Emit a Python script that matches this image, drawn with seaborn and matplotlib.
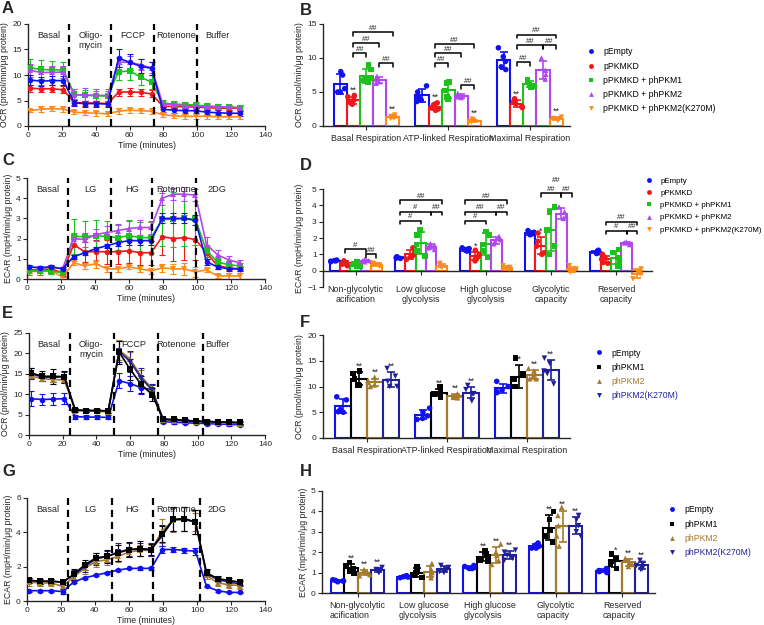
import numpy as np
import pandas as pd
import matplotlib
matplotlib.use('Agg')
import matplotlib.pyplot as plt
import seaborn as sns
from matplotlib.lines import Line2D

sns.set_style('ticks')
plt.rcParams['font.family'] = ['Liberation Sans', 'DejaVu Sans']
plt.rcParams['axes.linewidth'] = 1.0
np.random.seed(3)

W, H = 764, 625

# ---------------- data ----------------
time = [1.3, 7.8, 14.4, 20.9, 27.4, 33.9, 40.4, 47.0, 53.5, 60.0,
        66.5, 73.0, 79.6, 86.1, 92.6, 99.1, 105.6, 112.1, 118.6, 125.2]

kd_groups = ['pEmpty', 'pPKMKD', 'pPKMKD + phPKM1', 'pPKMKD + phPKM2', 'pPKMKD + phPKM2(K270M)']
kd_colors = ['#1010f0', '#f01818', '#1ec01e', '#b048ee', '#ff8a1c']
kd_markers = ['o', 'o', 's', '^', 'v']

oe_groups = ['pEmpty', 'phPKM1', 'phPKM2', 'phPKM2(K270M)']
oe_colors = ['#1010f0', '#000000', '#a67a2e', '#20209a']
oe_markers = ['o', 's', '^', 'v']

# A: OCR knockdown
ocr_kd_mean = {
    'pEmpty': [9.0, 8.8, 8.9, 8.9, 4.5, 4.4, 4.4, 4.3, 13.3, 12.5, 11.7, 11.3, 3.3, 3.1, 3.0, 3.0, 2.7, 2.6, 2.5, 2.5],
    'pPKMKD': [7.4, 7.3, 7.3, 7.1, 4.6, 4.5, 4.5, 4.4, 6.6, 6.7, 6.6, 6.3, 3.9, 3.8, 3.8, 3.7, 3.6, 3.5, 3.5, 3.5],
    'pPKMKD + phPKM1': [11.4, 11.1, 11.0, 11.0, 6.2, 6.0, 5.9, 5.9, 10.6, 10.8, 9.6, 8.6, 4.5, 4.3, 4.2, 4.1, 3.9, 3.8, 3.7, 3.6],
    'pPKMKD + phPKM2': [10.9, 10.5, 10.5, 10.6, 6.1, 6.1, 6.0, 6.0, 12.5, 12.5, 12.0, 11.4, 4.3, 4.2, 4.0, 3.9, 3.8, 3.8, 3.7, 3.6],
    'pPKMKD + phPKM2(K270M)': [3.0, 3.3, 3.4, 3.3, 2.7, 2.6, 2.5, 2.4, 2.9, 3.1, 3.0, 2.9, 2.2, 2.0, 1.9, 1.9, 1.9, 1.8, 1.8, 1.8],
}
ocr_kd_sd = {
    'pEmpty': [1.0, 0.9, 0.9, 0.9, 0.6, 0.6, 0.6, 0.5, 1.8, 1.6, 1.4, 1.3, 0.5, 0.5, 0.5, 0.5, 0.5, 0.5, 0.5, 0.5],
    'pPKMKD': [0.7, 0.7, 0.7, 0.7, 0.5, 0.5, 0.5, 0.5, 0.7, 0.8, 0.7, 0.7, 0.5, 0.5, 0.5, 0.5, 0.4, 0.4, 0.4, 0.4],
    'pPKMKD + phPKM1': [1.8, 1.9, 1.8, 1.5, 1.0, 1.0, 1.0, 1.0, 1.5, 1.8, 1.5, 1.4, 0.6, 0.6, 0.6, 0.6, 0.6, 0.5, 0.5, 0.5],
    'pPKMKD + phPKM2': [1.2, 1.2, 1.2, 1.2, 1.2, 1.3, 1.3, 1.3, 1.0, 1.2, 1.1, 1.1, 0.6, 0.6, 0.6, 0.6, 0.6, 0.6, 0.5, 0.5],
    'pPKMKD + phPKM2(K270M)': [0.3, 0.6, 0.5, 0.5, 0.4, 0.5, 0.5, 0.5, 0.6, 0.5, 0.5, 0.6, 0.4, 0.5, 0.5, 0.5, 0.5, 0.5, 0.5, 0.5],
}

# C: ECAR knockdown
ecar_kd_mean = {
    'pEmpty': [0.6, 0.55, 0.6, 0.5, 1.1, 1.3, 1.5, 1.65, 1.8, 1.9, 1.9, 1.9, 3.0, 3.0, 3.0, 2.9, 0.85, 0.6, 0.5, 0.5],
    'pPKMKD': [0.45, 0.45, 0.5, 0.3, 1.7, 1.35, 1.35, 1.35, 1.35, 1.4, 1.3, 1.3, 2.1, 2.0, 2.05, 1.95, 1.3, 0.65, 0.55, 0.5],
    'pPKMKD + phPKM1': [0.4, 0.4, 0.4, 0.3, 2.1, 2.1, 2.15, 2.1, 2.05, 2.15, 2.05, 2.05, 2.95, 2.95, 3.0, 2.95, 1.4, 0.85, 0.7, 0.65],
    'pPKMKD + phPKM2': [0.6, 0.55, 0.6, 0.5, 2.0, 1.95, 2.2, 2.3, 2.4, 2.5, 2.55, 2.55, 4.0, 4.2, 4.2, 4.15, 1.7, 1.2, 0.95, 0.8],
    'pPKMKD + phPKM2(K270M)': [0.35, 0.4, 0.4, 0.1, 0.8, 0.65, 0.75, 0.5, 0.5, 0.6, 0.5, 0.4, 0.55, 0.5, 0.5, 0.35, 0.45, 0.15, 0.15, 0.15],
}
ecar_kd_sd = {
    'pEmpty': [0.1, 0.1, 0.1, 0.1, 0.1, 0.1, 0.1, 0.1, 0.15, 0.2, 0.2, 0.2, 0.25, 0.25, 0.25, 0.25, 0.15, 0.1, 0.1, 0.1],
    'pPKMKD': [0.15, 0.15, 0.15, 0.15, 0.5, 0.5, 0.6, 0.6, 0.6, 0.6, 0.6, 0.6, 0.9, 1.1, 1.1, 1.0, 0.3, 0.15, 0.1, 0.1],
    'pPKMKD + phPKM1': [0.2, 0.2, 0.15, 0.2, 0.85, 0.75, 0.75, 0.75, 0.6, 0.75, 0.75, 0.75, 1.3, 1.35, 1.35, 1.25, 0.3, 0.2, 0.2, 0.15],
    'pPKMKD + phPKM2': [0.1, 0.1, 0.1, 0.1, 0.3, 0.35, 0.3, 0.3, 0.3, 0.35, 0.35, 0.3, 0.35, 0.3, 0.35, 0.3, 0.4, 0.25, 0.2, 0.15],
    'pPKMKD + phPKM2(K270M)': [0.15, 0.2, 0.15, 0.15, 0.1, 0.15, 0.2, 0.15, 0.15, 0.1, 0.15, 0.15, 0.2, 0.25, 0.3, 0.25, 0.1, 0.1, 0.15, 0.15],
}

# E: OCR overexpression
ocr_oe_mean = {
    'pEmpty': [8.9, 8.7, 8.8, 8.9, 4.5, 4.4, 4.4, 4.3, 13.3, 12.6, 11.6, 11.1, 3.3, 3.1, 3.0, 2.9, 2.8, 2.7, 2.6, 2.5],
    'phPKM1': [15.2, 14.4, 14.4, 14.3, 6.1, 6.0, 6.0, 5.9, 20.3, 16.1, 12.4, 9.9, 3.9, 3.8, 3.6, 3.4, 3.3, 3.2, 3.1, 3.1],
    'phPKM2': [14.4, 13.8, 13.6, 13.5, 6.0, 5.9, 5.8, 5.7, 20.8, 18.6, 14.4, 11.4, 3.6, 3.5, 3.4, 3.3, 3.1, 3.0, 2.9, 2.8],
    'phPKM2(K270M)': [15.0, 14.2, 14.1, 14.3, 6.2, 6.0, 6.0, 5.9, 20.5, 18.0, 14.0, 11.0, 3.8, 3.7, 3.5, 3.4, 3.3, 3.2, 3.1, 3.0],
}
ocr_oe_sd = {
    'pEmpty': [1.8, 1.4, 1.5, 1.4, 0.5, 0.5, 0.5, 0.5, 1.8, 1.8, 1.5, 1.2, 0.3, 0.3, 0.3, 0.3, 0.3, 0.3, 0.3, 0.3],
    'phPKM1': [1.3, 1.2, 1.8, 1.5, 0.4, 0.4, 0.4, 0.4, 2.8, 2.5, 2.0, 1.5, 0.3, 0.3, 0.3, 0.3, 0.3, 0.3, 0.3, 0.3],
    'phPKM2': [0.7, 0.6, 0.6, 0.6, 0.3, 0.3, 0.3, 0.3, 2.5, 1.8, 1.5, 1.0, 0.3, 0.3, 0.3, 0.3, 0.3, 0.3, 0.3, 0.3],
    'phPKM2(K270M)': [1.3, 1.0, 1.2, 1.2, 0.4, 0.4, 0.4, 0.4, 2.5, 2.5, 2.5, 1.5, 0.3, 0.3, 0.3, 0.3, 0.3, 0.3, 0.3, 0.3],
}

# G: ECAR overexpression
ecar_oe_mean = {
    'pEmpty': [0.6, 0.6, 0.6, 0.55, 1.1, 1.35, 1.5, 1.65, 1.8, 1.9, 1.9, 1.9, 3.0, 3.0, 2.95, 2.9, 0.85, 0.6, 0.5, 0.5],
    'phPKM1': [1.2, 1.15, 1.15, 1.1, 1.55, 2.1, 2.5, 2.6, 2.8, 3.0, 3.05, 3.0, 3.9, 4.75, 4.8, 4.6, 1.65, 1.3, 1.2, 1.1],
    'phPKM2': [1.1, 1.05, 1.05, 0.85, 1.4, 1.9, 2.3, 2.4, 2.6, 2.85, 2.95, 2.95, 4.1, 4.7, 4.75, 4.6, 1.5, 1.05, 0.95, 0.9],
    'phPKM2(K270M)': [1.2, 1.15, 1.15, 1.1, 1.5, 2.0, 2.45, 2.6, 2.85, 3.0, 3.0, 3.0, 3.8, 4.75, 4.75, 4.6, 1.6, 1.25, 1.1, 1.0],
}
ecar_oe_sd = {
    'pEmpty': [0.05, 0.05, 0.05, 0.15, 0.05, 0.05, 0.05, 0.05, 0.05, 0.05, 0.1, 0.1, 0.2, 0.15, 0.15, 0.2, 0.05, 0.05, 0.05, 0.05],
    'phPKM1': [0.15, 0.15, 0.15, 0.15, 0.3, 0.3, 0.3, 0.4, 0.45, 0.45, 0.45, 0.3, 0.45, 0.7, 0.7, 0.7, 0.2, 0.15, 0.15, 0.15],
    'phPKM2': [0.2, 0.15, 0.15, 0.2, 0.2, 0.3, 0.3, 0.3, 0.3, 0.3, 0.3, 0.3, 0.7, 0.7, 0.7, 0.5, 0.2, 0.2, 0.2, 0.2],
    'phPKM2(K270M)': [0.15, 0.15, 0.15, 0.15, 0.3, 0.3, 0.35, 0.3, 0.5, 0.4, 0.4, 0.35, 0.6, 0.7, 0.7, 0.7, 0.2, 0.15, 0.15, 0.15],
}

ocr_cats = ['Basal Respiration', 'ATP-linked Respiration', 'Maximal Respiration']
ecar_cats = ['Non-glycolytic\nacification', 'Low glucose\nglycolysis', 'High glucose\nglycolysis',
             'Glycolytic\ncapacity', 'Reserved\ncapacity']

# B: individual replicates, per category then group
ocr_kd_pts = [
    [[8.0, 7.5, 5.0, 5.0, 5.5], [4.5, 4.3, 3.8, 3.4, 3.2, 3.6], [9.0, 8.3, 7.0, 6.8, 6.7, 6.5], [7.3, 6.9, 6.5, 6.3], [1.6, 1.4, 1.3, 1.1, 1.2]],
    [[5.9, 5.0, 4.2, 3.6, 3.8], [3.4, 3.2, 2.7, 2.3, 2.5], [6.5, 6.3, 5.2, 4.3, 4.0], [4.8, 4.4, 4.3, 4.2], [1.0, 0.8, 0.7, 0.6]],
    [[11.5, 10.2, 9.5, 8.7, 8.3], [4.0, 3.6, 3.3, 2.9, 2.7], [6.8, 6.6, 6.0, 5.8, 5.7], [10.0, 8.2, 7.6, 6.9], [1.3, 1.1, 1.0, 0.8]],
]
# D
ecar_kd_pts = [
    [[0.65, 0.62, 0.6, 0.58, 0.55], [0.6, 0.5, 0.45, 0.4, 0.3], [0.55, 0.45, 0.4, 0.3, 0.25], [0.68, 0.62, 0.6, 0.55], [0.45, 0.4, 0.35, 0.25]],
    [[0.85, 0.82, 0.8, 0.78, 0.75], [1.4, 1.1, 0.95, 0.85, 0.7], [2.5, 2.2, 1.6, 1.2, 0.9], [1.65, 1.55, 1.4, 1.3], [0.45, 0.35, 0.25, 0.2]],
    [[1.4, 1.35, 1.3, 1.25, 1.2], [1.25, 1.0, 0.85, 0.7, 0.6], [2.4, 2.2, 1.6, 1.2, 0.8], [2.1, 1.9, 1.75, 1.65], [0.3, 0.2, 0.15, 0.1]],
    [[2.45, 2.35, 2.3, 2.25, 2.2], [2.3, 1.8, 1.5, 1.1, 1.0], [3.9, 3.6, 2.5, 1.5, 1.0], [3.9, 3.6, 3.3, 3.2], [0.3, 0.1, 0.0, -0.1]],
    [[1.25, 1.2, 1.15, 1.1, 1.05], [1.0, 0.8, 0.7, 0.5, 0.45], [1.3, 1.1, 0.8, 0.5, 0.3], [1.75, 1.7, 1.65, 1.6], [0.1, -0.1, -0.2, -0.5]],
]
# F
ocr_oe_pts = [
    [[8.0, 7.4, 5.5, 5.0, 5.1], [13.0, 12.5, 11.5, 10.3, 10.2], [11.8, 11.2, 10.8, 10.3, 10.0], [13.5, 12.0, 11.0, 10.0, 10.0]],
    [[5.8, 5.0, 4.3, 3.6, 3.8], [9.9, 9.0, 8.6, 8.0, 8.5], [8.6, 8.3, 8.0, 7.8, 7.9], [10.2, 9.4, 8.6, 7.2, 8.6]],
    [[11.0, 10.0, 9.3, 8.8, 9.0], [15.5, 12.5, 11.5, 10.0, 10.0], [13.5, 13.0, 12.0, 11.5, 11.5], [15.5, 14.5, 13.0, 12.5, 10.5]],
]
# H
ecar_oe_pts = [
    [[0.65, 0.62, 0.6, 0.58, 0.55], [1.5, 1.35, 1.2, 1.05, 0.95], [1.15, 1.05, 1.0, 0.9, 0.85], [1.25, 1.15, 1.1, 1.05, 1.0]],
    [[0.85, 0.82, 0.8, 0.78, 0.75], [1.3, 1.1, 1.0, 0.85, 0.75], [1.45, 1.15, 1.0, 0.9, 0.75], [1.35, 1.25, 1.15, 1.05, 1.0]],
    [[1.35, 1.3, 1.25, 1.2, 1.2], [2.05, 1.9, 1.8, 1.6, 1.55], [2.4, 2.0, 1.85, 1.6, 1.4], [2.1, 2.0, 1.85, 1.7, 1.6]],
    [[2.45, 2.35, 2.3, 2.2, 2.2], [4.0, 3.6, 3.1, 2.8, 2.5], [4.2, 3.8, 3.3, 2.8, 2.3], [3.8, 3.6, 3.3, 3.0, 2.8]],
    [[1.2, 1.15, 1.1, 1.05, 1.0], [1.9, 1.7, 1.55, 1.4, 1.2], [1.7, 1.6, 1.5, 1.4, 1.3], [1.6, 1.45, 1.35, 1.2, 1.15]],
]

# significance brackets: (category, group i, group j, height, label)
ocr_kd_brackets = [(0, 1, 4, 13.8, '##'), (0, 1, 3, 12.2, '##'), (0, 1, 2, 10.7, '##'), (0, 3, 4, 9.2, '##'),
                   (1, 1, 4, 12.0, '##'), (1, 1, 3, 10.7, '##'), (1, 1, 2, 9.2, '##'), (1, 3, 4, 6.0, '##'),
                   (2, 1, 4, 13.4, '##'), (2, 1, 3, 11.9, '##'), (2, 3, 4, 11.9, '##'), (2, 1, 2, 9.4, '##')]
ecar_kd_brackets = [(0, 1, 3, 1.3, '#'), (0, 3, 4, 1.0, '##'),
                    (1, 0, 4, 4.3, '##'), (1, 0, 3, 3.6, '#'), (1, 3, 4, 3.6, '##'), (1, 0, 2, 3.05, '#'),
                    (2, 0, 4, 4.3, '##'), (2, 0, 3, 3.6, '##'), (2, 3, 4, 3.6, '##'), (2, 0, 2, 3.05, '#'),
                    (3, 1, 4, 5.25, '##'), (3, 1, 3, 4.75, '##'), (3, 3, 4, 4.75, '##'),
                    (4, 1, 4, 3.0, '##'), (4, 1, 3, 2.45, '#'), (4, 3, 4, 2.45, '##')]
# stars: (category, group, label)
ocr_kd_stars = [(c, g, '**') for c in range(3) for g in (1, 4)]
ecar_kd_stars = [(2, 1, '*'), (3, 1, '*')]
ocr_oe_stars = [(c, g, '**') for c in range(3) for g in (1, 2, 3)]
ecar_oe_stars = [(c, g, '**') for c in (0, 2, 3) for g in (1, 2, 3)] + [(4, 1, '*'), (4, 2, '**'), (4, 3, '**')]

TICK_FS = 6
LABEL_FS = 6.3
CAT_FS = 6.4


# ---------------- helpers ----------------
def place(fig, x0, y0, x1, y1):
    return fig.add_axes([x0 / W, 1 - y1 / H, (x1 - x0) / W, (y1 - y0) / H])


def line_panel(ax, groups, colors, markers, means, sds, order, ylim, yticks, ylabel, phases, inject):
    rows = []
    for g in groups:
        for t, m in zip(time, means[g]):
            rows.append((t, m, g))
    df = pd.DataFrame(rows, columns=['time', 'value', 'group'])
    pal = dict(zip(groups, colors))
    mk = dict(zip(groups, markers))
    for g in order:
        sub = df[df.group == g]
        ax.errorbar(time, means[g], yerr=sds[g], fmt='none', ecolor=pal[g], elinewidth=0.8,
                    capsize=2, capthick=0.8, zorder=2)
        sns.lineplot(data=sub, x='time', y='value', color=pal[g], marker=mk[g], markersize=4,
                     markeredgewidth=0, linewidth=1.2, ax=ax, zorder=3)
    for x in inject:
        ax.axvline(x, color='k', lw=1.6, dashes=(3.2, 2.2), zorder=4)
    for x, lab in phases:
        ax.text(x, ylim[1] * 0.93, lab, ha='center', va='top', fontsize=6.6, linespacing=1.1)
    ax.set_xlim(0, 140)
    ax.set_xticks(range(0, 141, 20))
    ax.set_ylim(*ylim)
    ax.set_yticks(yticks)
    ax.set_xlabel('Time (minutes)', fontsize=LABEL_FS, labelpad=1)
    ax.set_ylabel(ylabel, fontsize=LABEL_FS, labelpad=2)
    ax.tick_params(labelsize=TICK_FS, length=3, width=0.8, pad=1.5)
    sns.despine(ax=ax)


def bar_panel(ax, cats, groups, colors, markers, pts, ylim, yticks, ylabel, xlim, brackets, stars, zero_axis=False):
    rows = []
    for ci, c in enumerate(cats):
        for gi, g in enumerate(groups):
            for v in pts[ci][gi]:
                rows.append((c, g, v))
    df = pd.DataFrame(rows, columns=['cat', 'group', 'value'])
    pal = dict(zip(groups, colors))
    sns.barplot(data=df, x='cat', y='value', hue='group', order=cats, hue_order=groups, palette=pal,
                fill=False, errorbar=None, width=0.8, linewidth=1.5, legend=False, ax=ax)
    for g, m in zip(groups, markers):
        sns.stripplot(data=df[df.group == g], x='cat', y='value', hue='group', order=cats, hue_order=groups,
                      palette=pal, dodge=True, jitter=0.35, marker=m, size=4, linewidth=0, legend=False,
                      ax=ax, zorder=4)
    stats = df.groupby(['cat', 'group'])['value'].agg(['mean', 'std'])
    centers = {}
    for gi, g in enumerate(groups):
        for ci, c in enumerate(cats):
            bar = ax.containers[gi][ci]
            x = bar.get_x() + bar.get_width() / 2
            centers[(ci, gi)] = x
            mu, sd = stats.loc[(c, g)]
            ax.errorbar(x, mu, yerr=sd, fmt='none', ecolor=colors[gi], elinewidth=1.2,
                        capsize=3, capthick=1.2, zorder=5)
    span = ylim[1] - ylim[0]
    for ci, gi, lab in stars:
        mu, sd = stats.loc[(cats[ci], groups[gi])]
        ax.text(centers[(ci, gi)], mu + sd + span * 0.015, lab, ha='center', va='bottom', fontsize=6.5)
    for ci, i, j, y, lab in brackets:
        x1, x2 = centers[(ci, i)], centers[(ci, j)]
        h = span * 0.035
        ax.plot([x1, x1, x2, x2], [y - h, y, y, y - h], color='k', lw=1.1)
        ax.text((x1 + x2) / 2, y + span * 0.005, lab, ha='center', va='bottom', fontsize=5.5)
    ax.set_xlim(*xlim)
    ax.set_ylim(*ylim)
    ax.set_yticks(yticks)
    ax.set_xlabel('')
    ax.set_ylabel(ylabel, fontsize=LABEL_FS, labelpad=2)
    ax.tick_params(axis='y', labelsize=TICK_FS, length=3, width=0.8, pad=1.5)
    ax.tick_params(axis='x', labelsize=CAT_FS, length=3, width=0.8, pad=2.5)
    for lab in ax.get_xticklabels():
        lab.set_horizontalalignment('center')
        lab.set_multialignment('left')
    sns.despine(ax=ax)
    if zero_axis:
        ax.spines['bottom'].set_position(('data', 0))
        ax.tick_params(axis='x', pad=7)


def legend(fig, x, y, groups, colors, markers, text_colors, spacing, fs=6.2):
    handles = [Line2D([], [], ls='', marker=m, color=c, markersize=3.5, markeredgewidth=0)
               for c, m in zip(colors, markers)]
    leg = fig.legend(handles, groups, loc='upper left', bbox_to_anchor=(x / W, 1 - y / H), frameon=False,
                     fontsize=fs, handlelength=0.9, handletextpad=1.0, labelspacing=spacing,
                     borderaxespad=0, borderpad=0)
    for t, c in zip(leg.get_texts(), text_colors):
        t.set_color(c)


# ---------------- figure ----------------
fig = plt.figure(figsize=(W / 100, H / 100), dpi=100)

ocr_label = 'OCR (pmol/min/μg protein)'
ecar_label = 'ECAR (mpH/min/μg protein)'
ocr_phases = [(12, 'Basal'), (37, 'Oligo-\nmycin'), (62, 'FCCP'), (87.5, 'Rotenone'), (112, 'Buffer')]
ecar_phases = [(12, 'Basal'), (37, 'LG'), (62, 'HG'), (87.5, 'Rotenone'), (112, '2DG')]

axA = place(fig, 28, 24, 265, 126)
line_panel(axA, kd_groups, kd_colors, kd_markers, ocr_kd_mean, ocr_kd_sd,
           [kd_groups[i] for i in (4, 1, 2, 3, 0)], (0, 20), range(0, 21, 5), ocr_label,
           ocr_phases, [24, 49.3, 74.7, 100])

axB = place(fig, 323, 24, 570, 126)
bar_panel(axB, ocr_cats, kd_groups, kd_colors, kd_markers, ocr_kd_pts, (0, 15), range(0, 16, 5), ocr_label,
          (-0.53, 2.49), ocr_kd_brackets, ocr_kd_stars)
legend(fig, 587, 47.5, kd_groups, kd_colors, kd_markers, ['k'] * 5, 0.6)

axC = place(fig, 27, 178, 265, 279)
line_panel(axC, kd_groups, kd_colors, kd_markers, ecar_kd_mean, ecar_kd_sd,
           [kd_groups[i] for i in (4, 1, 2, 3, 0)], (0, 5), range(0, 6), ecar_label,
           ecar_phases, [24, 49.5, 73.5, 99.5])

axD = place(fig, 323, 189, 652, 287)
bar_panel(axD, ecar_cats, kd_groups, kd_colors, kd_markers, ecar_kd_pts, (-1, 5), range(-1, 6), ecar_label,
          (-0.5, 4.55), ecar_kd_brackets, ecar_kd_stars, zero_axis=True)
legend(fig, 645, 177, kd_groups, kd_colors, kd_markers, ['k'] * 5, 0.6, fs=5.7)

axE = place(fig, 29, 333, 265, 435)
line_panel(axE, oe_groups, oe_colors, oe_markers, ocr_oe_mean, ocr_oe_sd,
           [oe_groups[i] for i in (0, 2, 3, 1)], (0, 25), range(0, 26, 5), ocr_label,
           ocr_phases, [24.4, 50.3, 76.6, 103.2])

axF = place(fig, 323, 335, 570, 438)
bar_panel(axF, ocr_cats, oe_groups, oe_colors, oe_markers, ocr_oe_pts, (0, 20), range(0, 21, 5), ocr_label,
          (-0.55, 2.54), [], ocr_oe_stars)
legend(fig, 595, 348.5, oe_groups, oe_colors, oe_markers, ['k', 'k', oe_colors[2], oe_colors[3]], 0.6)

axG = place(fig, 27, 498, 265, 601)
line_panel(axG, oe_groups, oe_colors, oe_markers, ecar_oe_mean, ecar_oe_sd,
           [oe_groups[i] for i in (0, 2, 3, 1)], (0, 6), range(0, 7, 2), ecar_label,
           ecar_phases, [24.4, 50, 74.2, 101.8])

axH = place(fig, 322, 491, 655, 593)
bar_panel(axH, ecar_cats, oe_groups, oe_colors, oe_markers, ecar_oe_pts, (0, 5), range(0, 6), ecar_label,
          (-0.54, 4.5), [], ecar_oe_stars)
legend(fig, 668, 505.5, oe_groups, oe_colors, oe_markers, ['k', 'k', oe_colors[2], oe_colors[3]], 0.6)

for lab, x, y in [('A', 2, 1), ('B', 300, 3), ('C', 2, 153), ('D', 300, 158),
                  ('E', 2, 306), ('F', 300, 315), ('G', 2, 464), ('H', 300, 464)]:
    fig.text(x / W, 1 - y / H, lab, fontsize=12, fontweight='bold', va='top', ha='left')

fig.savefig('out.png', dpi=100)
